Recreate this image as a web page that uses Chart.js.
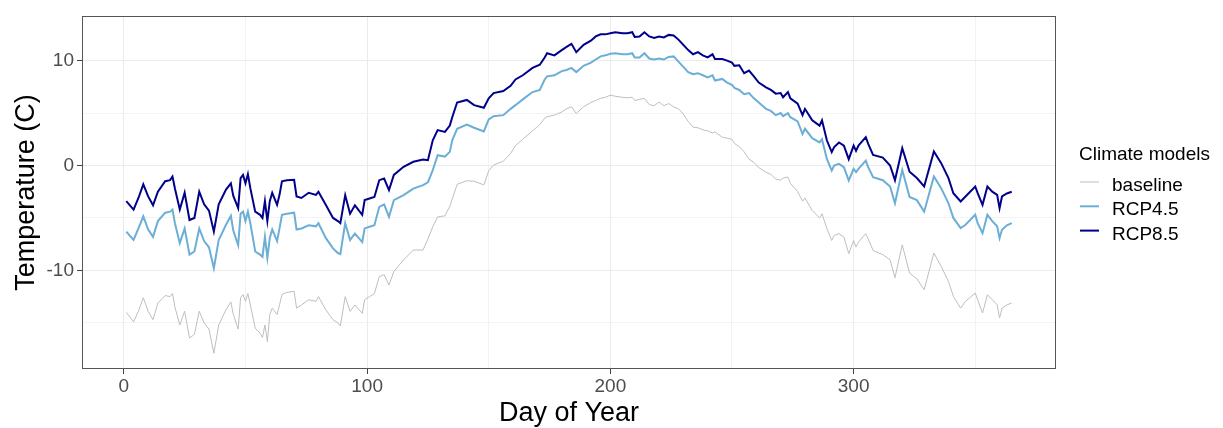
<!DOCTYPE html>
<html>
<head>
<meta charset="utf-8">
<title>Climate models</title>
<script src="https://cdn.jsdelivr.net/npm/chart.js@4.4.1/dist/chart.umd.min.js"></script>
<style>
  html, body { margin: 0; padding: 0; background: #fff; }
  #wrap { width: 1223px; height: 428px; }
</style>
</head>
<body>
<div id="wrap"><canvas id="chart" width="1223" height="428"></canvas></div>
<script>
// day of year for each sample
const days = [
  1, 4, 6, 8, 10, 12, 14, 17, 19, 20,
  21, 23, 25, 27, 29, 31, 33, 35, 37, 39,
  42, 44, 45, 47, 48, 49, 50, 51, 52, 54,
  56, 57, 58, 59, 60, 61, 63, 64, 65, 67,
  70, 71, 73, 76, 79, 80, 83, 86, 88, 89,
  91, 93, 95, 98, 99, 101, 103, 105, 107, 109,
  111, 115, 119, 123, 125, 127, 129, 132, 134, 135,
  137, 141, 144, 148, 150, 152, 156, 159, 161, 164,
  168, 171, 173, 174, 177, 180, 182, 184, 186, 189,
  192, 194, 196, 198, 200, 202, 205, 207, 209, 210,
  212, 214, 216, 218, 220, 222, 224, 226, 228, 230,
  232, 234, 236, 238, 240, 242, 243, 246, 248, 250,
  251, 253, 255, 257, 259, 261, 264, 266, 268, 270,
  271, 273, 274, 277, 279, 280, 283, 286, 287, 289,
  291, 292, 294, 296, 298, 300, 301, 302, 305, 306,
  308, 312, 315, 317, 320, 323, 326, 329, 333, 336,
  339, 341, 344, 346, 350, 351, 353, 355, 357, 359,
  360, 361, 363, 365
];

const baseline = [
  -14.0, -14.9, -13.9, -12.6, -13.9, -14.7, -13.1, -12.4, -12.5, -12.2,
  -13.5, -15.2, -13.9, -16.45, -16.1, -13.9, -15.0, -15.6, -17.9, -15.2,
  -13.75, -13.0, -14.2, -15.6, -12.6, -12.3, -12.95, -12.2, -13.3, -15.5,
  -16.0, -16.4, -15.2, -16.8, -14.2, -13.6, -14.2, -13.3, -12.3, -12.1,
  -12.0, -13.6, -13.3, -12.8, -12.95, -12.5, -13.75, -14.7, -15.0, -15.3,
  -12.5, -13.9, -13.3, -14.1, -12.8, -12.5, -12.2, -10.6, -10.4, -11.4,
  -10.1, -9.0, -8.06, -8.06, -7.0, -5.84, -4.9, -4.8, -3.9, -3.2,
  -1.8, -1.45, -1.5, -1.85, -0.5, 0.05, 0.4, 1.15, 1.9, 2.5,
  3.3, 3.9, 4.5, 4.65, 4.8, 5.1, 5.4, 5.6, 4.95, 5.6,
  6.0, 6.2, 6.4, 6.5, 6.7, 6.6, 6.5, 6.45, 6.5, 6.2,
  6.3, 6.4, 5.8, 5.7, 6.05, 5.7, 5.9, 5.6, 5.4, 4.9,
  4.2, 3.65, 3.6, 3.4, 3.3, 3.1, 3.2, 2.7, 2.6, 2.5,
  2.1, 1.8, 1.3, 0.6, 0.3, -0.2, -0.65, -0.85, -1.3, -1.4,
  -1.2, -1.1, -1.7, -2.5, -3.4, -3.1, -4.3, -5.0, -4.6, -6.0,
  -7.15, -6.67, -6.5, -6.83, -8.4, -7.15, -7.78, -7.3, -6.5, -6.98,
  -8.1, -8.5, -9.0, -10.7, -7.56, -10.26, -10.8, -11.84, -8.35, -9.62,
  -11.05, -12.48, -13.6, -12.95, -12.16, -12.8, -14.06, -12.32, -12.8, -13.27,
  -14.54, -13.6, -13.3, -13.1
];

const rcp45 = [
  -6.3, -7.1, -6.0, -4.85, -6.1, -6.8, -5.3, -4.5, -4.4, -4.2,
  -5.5, -7.4, -6.0, -8.5, -8.2, -6.0, -7.2, -7.8, -9.8, -7.1,
  -5.65, -4.8, -6.2, -7.6, -4.6, -4.4, -5.3, -4.4, -5.5, -8.2,
  -8.5, -8.7, -6.8, -8.8, -6.9, -6.1, -7.2, -6.0, -4.7, -4.6,
  -4.5, -6.1, -6.0, -5.7, -5.8, -5.5, -6.9, -7.9, -8.35, -8.45,
  -5.5, -7.1, -6.5, -7.3, -6.0, -5.84, -5.7, -3.94, -3.7, -4.9,
  -3.3, -2.83, -2.2, -1.87, -1.6, -0.44, 0.98, 0.85, 1.3, 2.4,
  3.5, 3.9, 3.6, 3.25, 4.4, 4.7, 4.8, 5.4, 5.75, 6.3,
  7.0, 7.2, 8.2, 8.5, 8.6, 9.0, 9.1, 9.3, 8.9, 9.5,
  9.8, 10.1, 10.4, 10.5, 10.65, 10.7, 10.6, 10.6, 10.7, 10.3,
  10.3, 10.7, 10.2, 10.1, 10.2, 10.1, 10.35, 10.4, 9.9, 9.4,
  8.9, 8.7, 8.8, 8.6, 8.4, 8.6, 8.1, 8.25, 7.9, 7.7,
  7.4, 7.2, 6.8, 6.9, 6.4, 6.0, 5.4, 5.2, 4.8, 5.0,
  4.7, 5.0, 4.6, 4.2, 3.0, 3.5, 2.6, 2.2, 2.5, 0.63,
  -0.48, 0.0, 0.16, -0.16, -1.43, -0.32, -0.63, -0.32, 0.47, -0.16,
  -1.11, -1.4, -2.0, -3.6, -0.42, -3.0, -3.3, -4.4, -1.05, -2.16,
  -3.6, -5.0, -5.97, -5.65, -4.7, -5.5, -6.45, -4.7, -5.3, -5.8,
  -6.92, -6.13, -5.7, -5.5
];

const rcp85 = [
  -3.4, -4.2, -3.1, -1.8, -2.95, -3.8, -2.5, -1.5, -1.4, -1.05,
  -2.2, -4.2, -2.6, -5.2, -5.0, -2.5, -3.7, -4.3, -6.3, -3.7,
  -2.3, -1.7, -2.9, -4.07, -1.2, -0.9, -1.7, -0.83, -2.16, -4.4,
  -4.7, -5.0, -3.4, -5.3, -3.4, -2.6, -3.75, -2.8, -1.5, -1.4,
  -1.37, -2.95, -3.1, -2.6, -2.8, -2.5, -3.75, -5.0, -5.3, -5.5,
  -2.83, -4.6, -3.8, -4.7, -3.3, -3.15, -3.0, -1.4, -1.24, -2.35,
  -0.9, -0.13, 0.35, 0.57, 0.5, 2.4, 3.37, 3.2, 3.8, 4.6,
  6.0, 6.25, 5.75, 5.5, 6.4, 6.9, 7.1, 7.6, 8.2, 8.6,
  9.3, 9.6, 10.3, 10.7, 10.5, 11.0, 11.3, 11.6, 10.8, 11.5,
  11.9, 12.3, 12.5, 12.5, 12.6, 12.7, 12.6, 12.6, 12.7, 12.25,
  12.3, 12.7, 12.3, 12.15, 12.3, 12.2, 12.45, 12.4, 12.0, 11.5,
  11.0, 10.6, 10.8, 10.5, 10.3, 10.6, 10.15, 10.15, 10.0, 9.8,
  9.5, 9.55, 8.8, 9.05, 8.5, 7.9, 7.45, 7.2, 6.85, 6.9,
  6.5, 7.0, 6.4, 5.9, 4.8, 5.4, 4.3, 3.8, 4.3, 2.4,
  1.27, 1.75, 2.2, 1.9, 0.6, 1.9, 1.4, 1.9, 2.7, 2.06,
  1.0, 0.75, 0.0, -1.4, 1.65, -0.6, -1.2, -2.0, 1.33, 0.22,
  -1.2, -2.64, -3.43, -2.95, -2.0, -2.64, -3.75, -2.0, -2.5, -2.8,
  -4.07, -2.95, -2.67, -2.5
];

const seriesNames = ['baseline', 'RCP4.5', 'RCP8.5'];
const majorX = [0, 100, 200, 300];
const minorX = [50, 150, 250, 350];
const majorY = [-10, 0, 10];
const minorY = [-15, -5, 5];

const FONT = "'Liberation Sans', Arial, sans-serif";

function pts(vals) {
  return days.map((d, i) => ({ x: d, y: vals[i] }));
}

function setTicks(list) {
  return scale => {
    scale.ticks = list.slice().sort((a, b) => a - b).map(v => ({ value: v }));
  };
}

// ggplot-like panel border and legend
const panelExtras = {
  id: 'panelExtras',
  afterDatasetsDraw(chart) {
    const { ctx, chartArea: a } = chart;
    ctx.save();
    ctx.strokeStyle = '#555555';
    ctx.lineWidth = 1;
    ctx.strokeRect(Math.round(a.left) + 0.5, Math.round(a.top) + 0.5,
      Math.round(a.right - a.left) - 1, Math.round(a.bottom - a.top) - 1);
    ctx.restore();
  },
  afterDraw(chart) {
    const { ctx, chartArea: a } = chart;
    const x0 = a.right + 23;
    ctx.save();
    ctx.fillStyle = '#000';
    ctx.font = '19px ' + FONT;
    ctx.textBaseline = 'alphabetic';
    ctx.textAlign = 'left';
    ctx.fillText('Climate models', x0, 160);
    chart.data.datasets.forEach((ds, i) => {
      const y = 182 + i * 24.3;
      ctx.strokeStyle = ds.borderColor;
      ctx.lineWidth = ds.borderWidth;
      ctx.beginPath();
      ctx.moveTo(x0 + 1, y);
      ctx.lineTo(x0 + 20, y);
      ctx.stroke();
      ctx.fillText(ds.label, x0 + 33, y + 9);
    });
    ctx.restore();
  }
};

const gridOpts = (major) => ({
  color: c => major.includes(c.tick.value) ? '#EBEBEB' : '#F3F3F3',
  lineWidth: 1,
  tickLength: 5,
  tickColor: c => major.includes(c.tick.value) ? '#444444' : 'rgba(0,0,0,0)',
  tickWidth: 1
});

new Chart(document.getElementById('chart'), {
  type: 'line',
  data: {
    datasets: [
      { label: seriesNames[0], data: pts(baseline), borderColor: '#BEBEBE', borderWidth: 1, order: 3 },
      { label: seriesNames[1], data: pts(rcp45), borderColor: '#6BAED6', borderWidth: 2, order: 2 },
      { label: seriesNames[2], data: pts(rcp85), borderColor: '#00008B', borderWidth: 2, order: 1 }
    ]
  },
  options: {
    responsive: false,
    animation: false,
    parsing: false,
    elements: { point: { radius: 0 }, line: { tension: 0, fill: false } },
    layout: { padding: { top: 16, right: 167, left: 0, bottom: 0 } },
    plugins: { legend: { display: false }, tooltip: { enabled: false } },
    scales: {
      x: {
        type: 'linear',
        min: -17.2,
        max: 383.2,
        afterBuildTicks: setTicks(majorX.concat(minorX)),
        afterFit: s => { s.height = 59; },
        grid: gridOpts(majorX),
        border: { display: false },
        ticks: {
          padding: 1,
          maxRotation: 0,
          autoSkip: false,
          color: '#4D4D4D',
          font: { family: FONT, size: 19 },
          callback: v => majorX.includes(v) ? String(v) : ''
        },
        title: {
          display: true,
          text: 'Day of Year',
          color: '#000',
          font: { family: FONT, size: 27, lineHeight: 1.1 },
          padding: { top: 0, bottom: 0 }
        }
      },
      y: {
        type: 'linear',
        min: -19.4,
        max: 14.25,
        afterBuildTicks: setTicks(majorY.concat(minorY)),
        afterFit: s => { s.width = 82; },
        grid: gridOpts(majorY),
        border: { display: false },
        ticks: {
          padding: 3,
          autoSkip: false,
          color: '#4D4D4D',
          font: { family: FONT, size: 19 },
          callback: v => majorY.includes(v) ? String(v) : ''
        },
        title: {
          display: true,
          text: 'Temperature (C)',
          color: '#000',
          font: { family: FONT, size: 27, lineHeight: 1.1 },
          padding: { top: 11.5, bottom: 0 }
        }
      }
    }
  },
  plugins: [panelExtras]
});
</script>
</body>
</html>
